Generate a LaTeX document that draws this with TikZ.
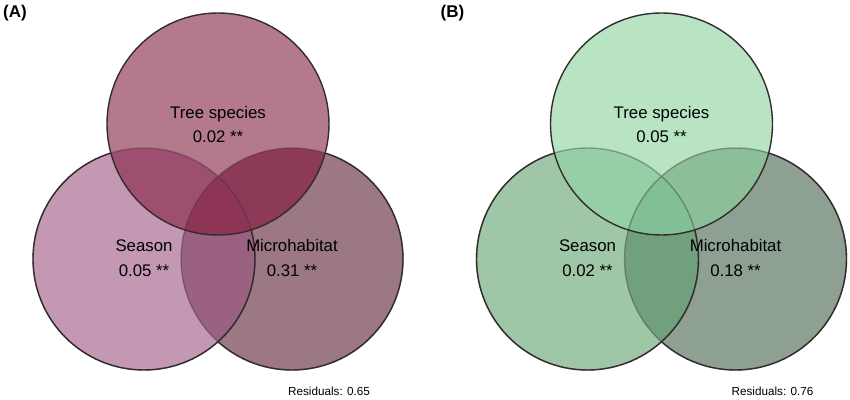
\documentclass[tikz,border=0pt]{standalone}
\usepackage{fontspec}
\setmainfont{Liberation Sans}

% panel A (purple)
\definecolor{vAt}{RGB}{180,122,140}
\definecolor{vAl}{RGB}{196,152,178}
\definecolor{vAr}{RGB}{156,120,130}
\definecolor{vAtl}{RGB}{158,78,110}
\definecolor{vAtr}{RGB}{140,58,88}
\definecolor{vAlr}{RGB}{154,97,128}
\definecolor{vAc}{RGB}{142,53,87}
% panel B (green)
\definecolor{vBt}{RGB}{184,228,196}
\definecolor{vBl}{RGB}{160,198,168}
\definecolor{vBr}{RGB}{142,160,146}
\definecolor{vBtl}{RGB}{150,206,166}
\definecolor{vBtr}{RGB}{140,190,152}
\definecolor{vBlr}{RGB}{112,160,124}
\definecolor{vBc}{RGB}{128,192,148}
\definecolor{edge}{RGB}{50,44,47}

\newcommand\vennregions[1]{%
  \fill[fill=v#1t] (top) circle (111);
  \fill[fill=v#1l] (left) circle (111);
  \fill[fill=v#1r] (right) circle (111);
  \begin{scope}
    \clip (top) circle (111);
    \fill[fill=v#1tl] (left) circle (111);
    \fill[fill=v#1tr] (right) circle (111);
  \end{scope}
  \begin{scope}
    \clip (left) circle (111);
    \fill[fill=v#1lr] (right) circle (111);
    \clip (top) circle (111);
    \fill[fill=v#1c] (right) circle (111);
  \end{scope}
  % outlines under a later circle look faint
  \draw[venn, draw opacity=0.35] (left) circle (111) (right) circle (111);
  \draw[venn] (top) circle (111);
  \begin{scope}[even odd rule]
    \clip (-100,-100) rectangle (500,500) (top) circle (111);
    \draw[venn] (left) circle (111);
    \clip (-100,-100) rectangle (500,500) (left) circle (111);
    \draw[venn] (right) circle (111);
  \end{scope}
}

\begin{document}
\begin{tikzpicture}[x=1pt, y=1pt,
  venn/.style={draw=edge, line width=1.4pt},
  lbl/.style={anchor=base, inner sep=0pt, font=\fontsize{16.8}{20}\selectfont},
  res/.style={anchor=base, inner sep=0pt, font=\fontsize{11.7}{14}\selectfont},
  tag/.style={anchor=base west, inner sep=0pt, font=\fontsize{17}{20}\selectfont\bfseries}]
  \useasboundingbox (0,0) rectangle (850,399);

  % (A)
  \coordinate (top) at (218,275);
  \coordinate (left) at (144,140);
  \coordinate (right) at (292,140);
  \vennregions{A}
  \node[tag] (a-tag) at (3,381.5) {(A)};
  \node[lbl] (a-tree) at (218,280) {Tree species};
  \node[lbl] (a-treeval) at (218,256.3) {0.02 **};
  \node[lbl] (a-season) at (144,147) {Season};
  \node[lbl] (a-seasonval) at (144,123) {0.05 **};
  \node[lbl] (a-micro) at (292,147) {Microhabitat};
  \node[lbl] (a-microval) at (292,123) {0.31 **};
  \node[res] (a-res) at (329,4) {Residuals: 0.65};

  % (B)
  \begin{scope}[xshift=443.5pt]
    \coordinate (top) at (218,275);
    \coordinate (left) at (144,140);
    \coordinate (right) at (292,140);
    \vennregions{B}
    \node[tag] (b-tag) at (-3,381.5) {(B)};
    \node[lbl] (b-tree) at (218,280) {Tree species};
    \node[lbl] (b-treeval) at (218,256.3) {0.05 **};
    \node[lbl] (b-season) at (144,147) {Season};
    \node[lbl] (b-seasonval) at (144,123) {0.02 **};
    \node[lbl] (b-micro) at (292,147) {Microhabitat};
    \node[lbl] (b-microval) at (292,123) {0.18 **};
    \node[res] (b-res) at (329,4) {Residuals: 0.76};
  \end{scope}
\end{tikzpicture}
\end{document}
